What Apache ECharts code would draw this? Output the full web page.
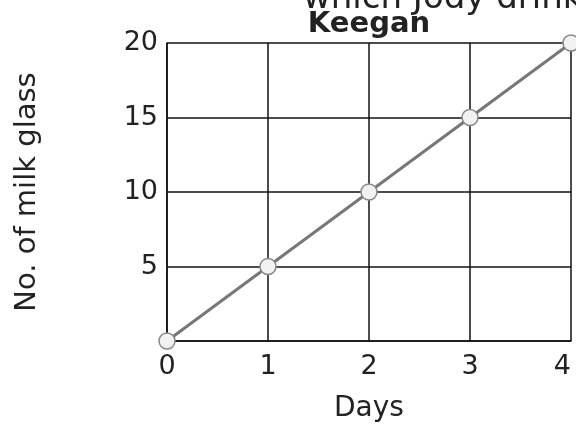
<!DOCTYPE html>
<html>
<head>
<meta charset="utf-8">
<script src="https://cdn.jsdelivr.net/npm/echarts@6/dist/echarts.min.js"></script>
<style>html,body{margin:0;padding:0;background:#fff}#c{width:576px;height:428px}</style>
</head>
<body>
<div id="c"></div>
<script>
const days = [0, 1, 2, 3, 4];
const milkGlasses = [0, 5, 10, 15, 20];
const titleText = 'Keegan';
const topCutText = 'which Jody drink';
const xName = 'Days';
const yName = 'No. of milk glass';

const chart = echarts.init(document.getElementById('c'));
const font = 'DejaVu Sans';
chart.setOption({
  backgroundColor: '#fff',
  animation: false,
  title: {
    text: titleText, left: 364, top: 5, textAlign: 'center',
    textStyle: {fontFamily: font, fontSize: 29, fontWeight: 'bold', color: '#222'}
  },
  graphic: [{
    type: 'text', left: 303, top: -18,
    style: {text: topCutText, fontFamily: font, fontSize: 34, fill: '#222'}
  }],
  grid: {left: 167, right: 5, top: 43, bottom: 87, outerBoundsMode: 'none', containLabel: false},
  xAxis: {
    type: 'value', min: 0, max: 4, interval: 1,
    name: xName, nameLocation: 'middle', nameGap: 54,
    nameTextStyle: {fontFamily: font, fontSize: 28, color: '#222', verticalAlign: 'top'},
    axisLine: {show: true, lineStyle: {color: '#111', width: 1.5}},
    axisTick: {show: false},
    axisLabel: {fontFamily: font, fontSize: 27, color: '#222', margin: 12, alignMaxLabel: 'right'},
    splitLine: {show: true, lineStyle: {color: '#111', width: 1.5}}
  },
  yAxis: {
    type: 'value', min: 0, max: 20, interval: 5,
    name: yName, nameLocation: 'middle', nameGap: 125,
    nameTextStyle: {fontFamily: font, fontSize: 29, color: '#222'},
    axisLine: {show: true, lineStyle: {color: '#111', width: 1.5}},
    axisTick: {show: false},
    axisLabel: {fontFamily: font, fontSize: 27, color: '#222', margin: 9, showMinLabel: false},
    splitLine: {show: true, lineStyle: {color: '#111', width: 1.5}}
  },
  series: [{
    type: 'line',
    data: days.map((d, i) => [d, milkGlasses[i]]),
    symbol: 'circle', symbolSize: 16,
    lineStyle: {color: '#777', width: 3},
    itemStyle: {color: '#f2f2f2', borderColor: '#888', borderWidth: 1.5},
    clip: false
  }]
});
</script>
</body>
</html>
